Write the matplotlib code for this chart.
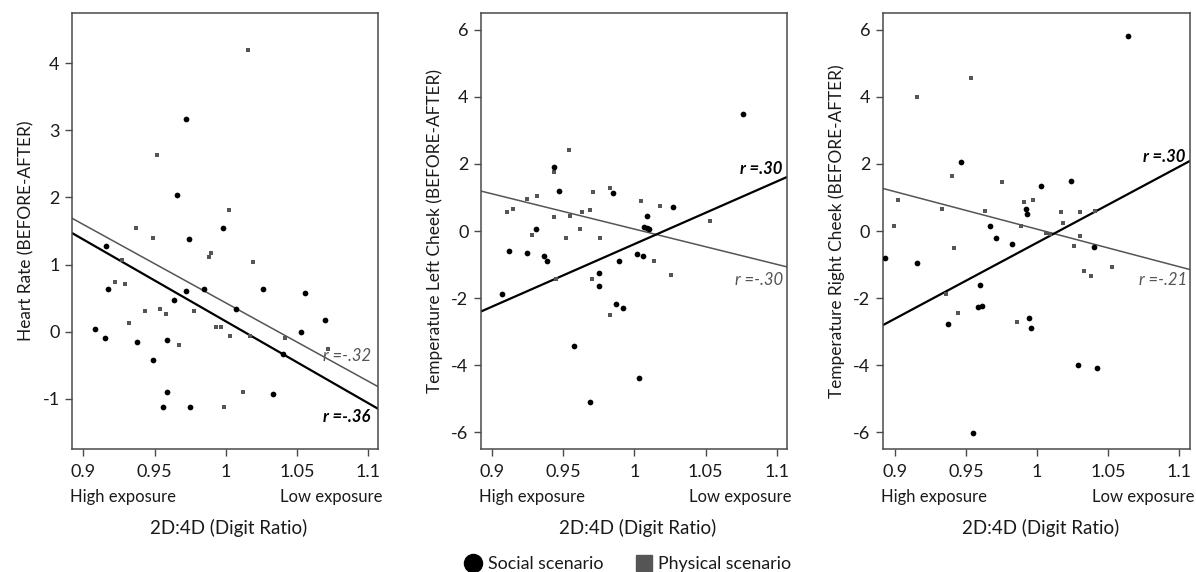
import matplotlib
matplotlib.use("Agg")
import matplotlib.pyplot as plt
from matplotlib.lines import Line2D

FONT = ['Lato', 'Open Sans', 'DejaVu Sans']
plt.rcParams['font.family'] = FONT

# ---------------- data ----------------
panel_ylabels = ["Heart Rate (BEFORE-AFTER)",
                 "Temperature Left Cheek (BEFORE-AFTER)",
                 "Temperature Right Cheek (BEFORE-AFTER)"]
x_ticks = [0.9, 0.95, 1.0, 1.05, 1.1]
x_tick_labels = ["0.9", "0.95", "1", "1.05", "1.1"]
y_ticks_hr = [-1, 0, 1, 2, 3, 4]
y_ticks_temp = [-6, -4, -2, 0, 2, 4, 6]

# Heart rate panel
hr_social_x = [0.972, 0.966, 0.998, 0.974, 0.916, 0.917, 0.972, 0.985, 1.026, 1.056,
               0.964, 1.007, 1.070, 0.908, 1.053, 0.915, 0.959, 0.938, 1.040, 0.949,
               0.959, 1.033, 0.956, 0.975]
hr_social_y = [3.17, 2.04, 1.54, 1.38, 1.28, 0.63, 0.61, 0.63, 0.63, 0.57,
               0.47, 0.34, 0.17, 0.04, 0.00, -0.10, -0.13, -0.16, -0.33, -0.43,
               -0.90, -0.93, -1.13, -1.13]
hr_phys_x = [1.016, 0.952, 1.002, 0.937, 0.949, 0.990, 0.988, 1.019, 0.927, 0.922,
             0.929, 0.954, 0.958, 0.943, 0.978, 0.932, 0.993, 0.997, 1.003, 1.017,
             1.042, 0.967, 1.072, 1.012, 0.999]
hr_phys_y = [4.20, 2.64, 1.81, 1.54, 1.40, 1.17, 1.11, 1.04, 1.07, 0.74,
             0.71, 0.34, 0.26, 0.30, 0.30, 0.13, 0.07, 0.07, -0.06, -0.06,
             -0.10, -0.20, -0.26, -0.90, -1.13]

# Left cheek panel
lc_social_x = [1.076, 0.944, 0.947, 0.985, 1.027, 1.009, 0.931, 1.007, 1.009, 1.010,
               0.912, 0.925, 1.002, 1.006, 0.937, 0.939, 0.989, 0.975, 0.975, 0.907,
               0.987, 0.992, 0.958, 1.003, 0.969]
lc_social_y = [3.48, 1.90, 1.19, 1.13, 0.71, 0.44, 0.05, 0.12, 0.09, 0.07,
               -0.60, -0.66, -0.68, -0.76, -0.74, -0.90, -0.90, -1.26, -1.65, -1.87,
               -2.19, -2.29, -3.44, -4.38, -5.11]
lc_phys_x = [0.954, 0.944, 0.971, 0.983, 0.925, 0.932, 1.005, 1.018, 0.911, 0.915,
             0.963, 0.969, 0.944, 0.955, 1.053, 0.962, 0.928, 0.952, 0.976, 1.014,
             1.026, 0.970, 0.945, 0.983]
lc_phys_y = [2.41, 1.75, 1.16, 1.28, 0.95, 1.03, 0.90, 0.74, 0.56, 0.66,
             0.58, 0.64, 0.41, 0.45, 0.30, 0.06, -0.12, -0.22, -0.20, -0.90,
             -1.30, -1.43, -1.43, -2.50]

# Right cheek panel
rc_social_x = [1.064, 0.946, 1.024, 1.003, 0.992, 0.993, 0.967, 0.971, 0.982, 1.040,
               0.8925, 0.915, 0.960, 0.958, 0.961, 0.937, 0.994, 0.996, 1.029, 1.042,
               0.955]
rc_social_y = [5.81, 2.07, 1.48, 1.34, 0.66, 0.50, 0.15, -0.20, -0.39, -0.48,
               -0.80, -0.94, -1.60, -2.27, -2.25, -2.76, -2.59, -2.90, -3.99, -4.07,
               -6.01]
rc_phys_x = [0.953, 0.915, 0.940, 0.975, 0.902, 0.997, 0.991, 0.933, 0.963, 1.017,
             1.030, 1.041, 1.018, 0.899, 0.989, 1.006, 1.009, 1.030, 1.026, 0.941,
             1.053, 1.033, 1.038, 0.936, 0.944, 0.986]
rc_phys_y = [4.57, 4.01, 1.63, 1.45, 0.91, 0.91, 0.85, 0.67, 0.61, 0.57,
             0.57, 0.60, 0.25, 0.15, 0.15, -0.05, -0.08, -0.14, -0.46, -0.50,
             -1.06, -1.20, -1.33, -1.87, -2.44, -2.72]

# fitted regression lines (x0, x1) -> (y0, y1)
fit_x = [(0.892, 1.107), (0.8925, 1.107), (0.891, 1.108)]
fit_social_y = [(1.47, -1.15), (-2.40, 1.61), (-2.81, 2.09)]
fit_phys_y = [(1.69, -0.82), (1.19, -1.07), (1.27, -1.15)]

r_social = ["r =-.36", "r =.30", "r =.30"]
r_social_pos = [(1.1015, -1.27), (1.104, 1.84), (1.105, 2.21)]
r_phys = ["r =-.32", "r =-.30", "r =-.21"]
r_phys_pos = [(1.102, -0.37), (1.104, -1.45), (1.106, -1.47)]

xlims = [(0.892, 1.107), (0.8925, 1.107), (0.891, 1.108)]
ylims = [(-1.75, 4.75), (-6.5, 6.5), (-6.5, 6.5)]

panels = [
    (hr_social_x, hr_social_y, hr_phys_x, hr_phys_y, y_ticks_hr),
    (lc_social_x, lc_social_y, lc_phys_x, lc_phys_y, y_ticks_temp),
    (rc_social_x, rc_social_y, rc_phys_x, rc_phys_y, y_ticks_temp),
]

# ---------------- figure ----------------
W, H = 1196, 572
fig = plt.figure(figsize=(W / 100, H / 100), dpi=100)
ax_lefts = [72, 481, 882.7]
ax_widths = [306, 306, 307.3]
ax_top, ax_bottom = 13, 449

TXT = '#1a1a1a'
FRAME = '#4a4a4a'
GRAY = '#555555'

for i, (sx, sy, px, py, yt) in enumerate(panels):
    ax = fig.add_axes([ax_lefts[i] / W, 1 - ax_bottom / H,
                       ax_widths[i] / W, (ax_bottom - ax_top) / H])
    ax.plot(fit_x[i], fit_phys_y[i], color=GRAY, lw=1.1, zorder=2)
    ax.plot(fit_x[i], fit_social_y[i], color='black', lw=1.6, zorder=2)
    ax.scatter(px, py, marker='s', s=10, color=GRAY, linewidths=0, zorder=3)
    ax.scatter(sx, sy, marker='o', s=17, color='black', linewidths=0, zorder=4)

    ax.text(*r_phys_pos[i], r_phys[i], ha='right', va='center', style='italic',
            color=GRAY, fontsize=12)
    ax.text(*r_social_pos[i], r_social[i], ha='right', va='center', style='italic',
            weight='bold', color='black', fontsize=12)

    ax.set_xlim(*xlims[i])
    ax.set_ylim(*ylims[i])
    ax.set_xticks(x_ticks)
    ax.set_xticklabels(x_tick_labels)
    ax.set_yticks(yt)
    ax.set_yticklabels([str(v) for v in yt])
    ax.tick_params(axis='both', length=5, width=1, color=FRAME, labelcolor=TXT,
                   labelsize=13)
    ax.tick_params(axis='x', pad=6)
    ax.tick_params(axis='y', pad=4)
    for sp in ax.spines.values():
        sp.set_color(FRAME)
        sp.set_linewidth(1.1)
    ax.set_ylabel(panel_ylabels[i], fontsize=12.4, color=TXT, labelpad=6)

    ax.annotate("High exposure", xy=(0, 0), xycoords='axes fraction',
                xytext=(-2, -48), textcoords='offset pixels', ha='left',
                va='center', fontsize=12, color=TXT)
    ax.annotate("Low exposure", xy=(1, 0), xycoords='axes fraction',
                xytext=(5, -48), textcoords='offset pixels', ha='right',
                va='center', fontsize=12, color=TXT)
    ax.annotate("2D:4D (Digit Ratio)", xy=(0.5, 0), xycoords='axes fraction',
                xytext=(4, -79), textcoords='offset pixels', ha='center',
                va='center', fontsize=13.5, color=TXT)

handles = [Line2D([], [], marker='o', ls='none', color='black', markersize=13),
           Line2D([], [], marker='s', ls='none', color=GRAY, markersize=12)]
fig.legend(handles, ["Social scenario", "Physical scenario"], ncol=2,
           loc='center', bbox_to_anchor=(628 / W, 1 - 564 / H), frameon=False,
           fontsize=12.8, handletextpad=0.3, columnspacing=1.8, handlelength=1.0,
           labelcolor=TXT)

fig.savefig("out.png", dpi=100)
